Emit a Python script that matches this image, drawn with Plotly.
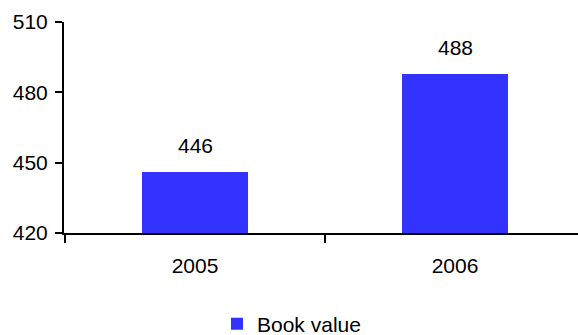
import plotly.graph_objects as go

years = ["2005", "2006"]
book_value = [446, 488]
y_ticks = [420, 450, 480, 510]

BAR_COLOR = "#3333FF"
FONT = "Liberation Sans, Arial, sans-serif"
FONT_SIZE = 21

fig = go.Figure()
fig.add_trace(go.Bar(
    x=years,
    y=book_value,
    name="Book value",
    marker=dict(color=BAR_COLOR, line=dict(width=0)),
    width=0.41,
    showlegend=True,
))

# value labels above each bar
for i, v in enumerate(book_value):
    fig.add_annotation(
        x=i, y=v, xref="x", yref="y",
        text=str(v), showarrow=False,
        yanchor="bottom", yshift=13,
        font=dict(family=FONT, size=FONT_SIZE, color="#000000"),
    )

fig.update_layout(
    width=578, height=335,
    margin=dict(l=64, r=0, t=22, b=102, autoexpand=False),
    paper_bgcolor="white", plot_bgcolor="white",
    font=dict(family=FONT, size=FONT_SIZE, color="#000000"),
    bargap=0,
    legend=dict(
        orientation="h", xref="container", x=217 / 578, xanchor="left",
        yref="container", y=(335 - 324) / 335, yanchor="middle",
        font=dict(family=FONT, size=FONT_SIZE),
        itemwidth=30,
    ),
)

fig.update_xaxes(
    type="category",
    range=[-0.504, 1.473],
    showline=True, linecolor="black", linewidth=2,
    ticks="outside", tickson="boundaries", ticklen=8, tickwidth=2, tickcolor="black",
    ticklabelstandoff=13,
    showgrid=False, zeroline=False,
)
fig.update_yaxes(
    range=[420, 510],
    tickvals=y_ticks,
    showline=True, linecolor="black", linewidth=2,
    ticks="outside", ticklen=7, tickwidth=2, tickcolor="black",
    ticklabelstandoff=3,
    showgrid=False, zeroline=False,
)

fig.write_html("out.html")
